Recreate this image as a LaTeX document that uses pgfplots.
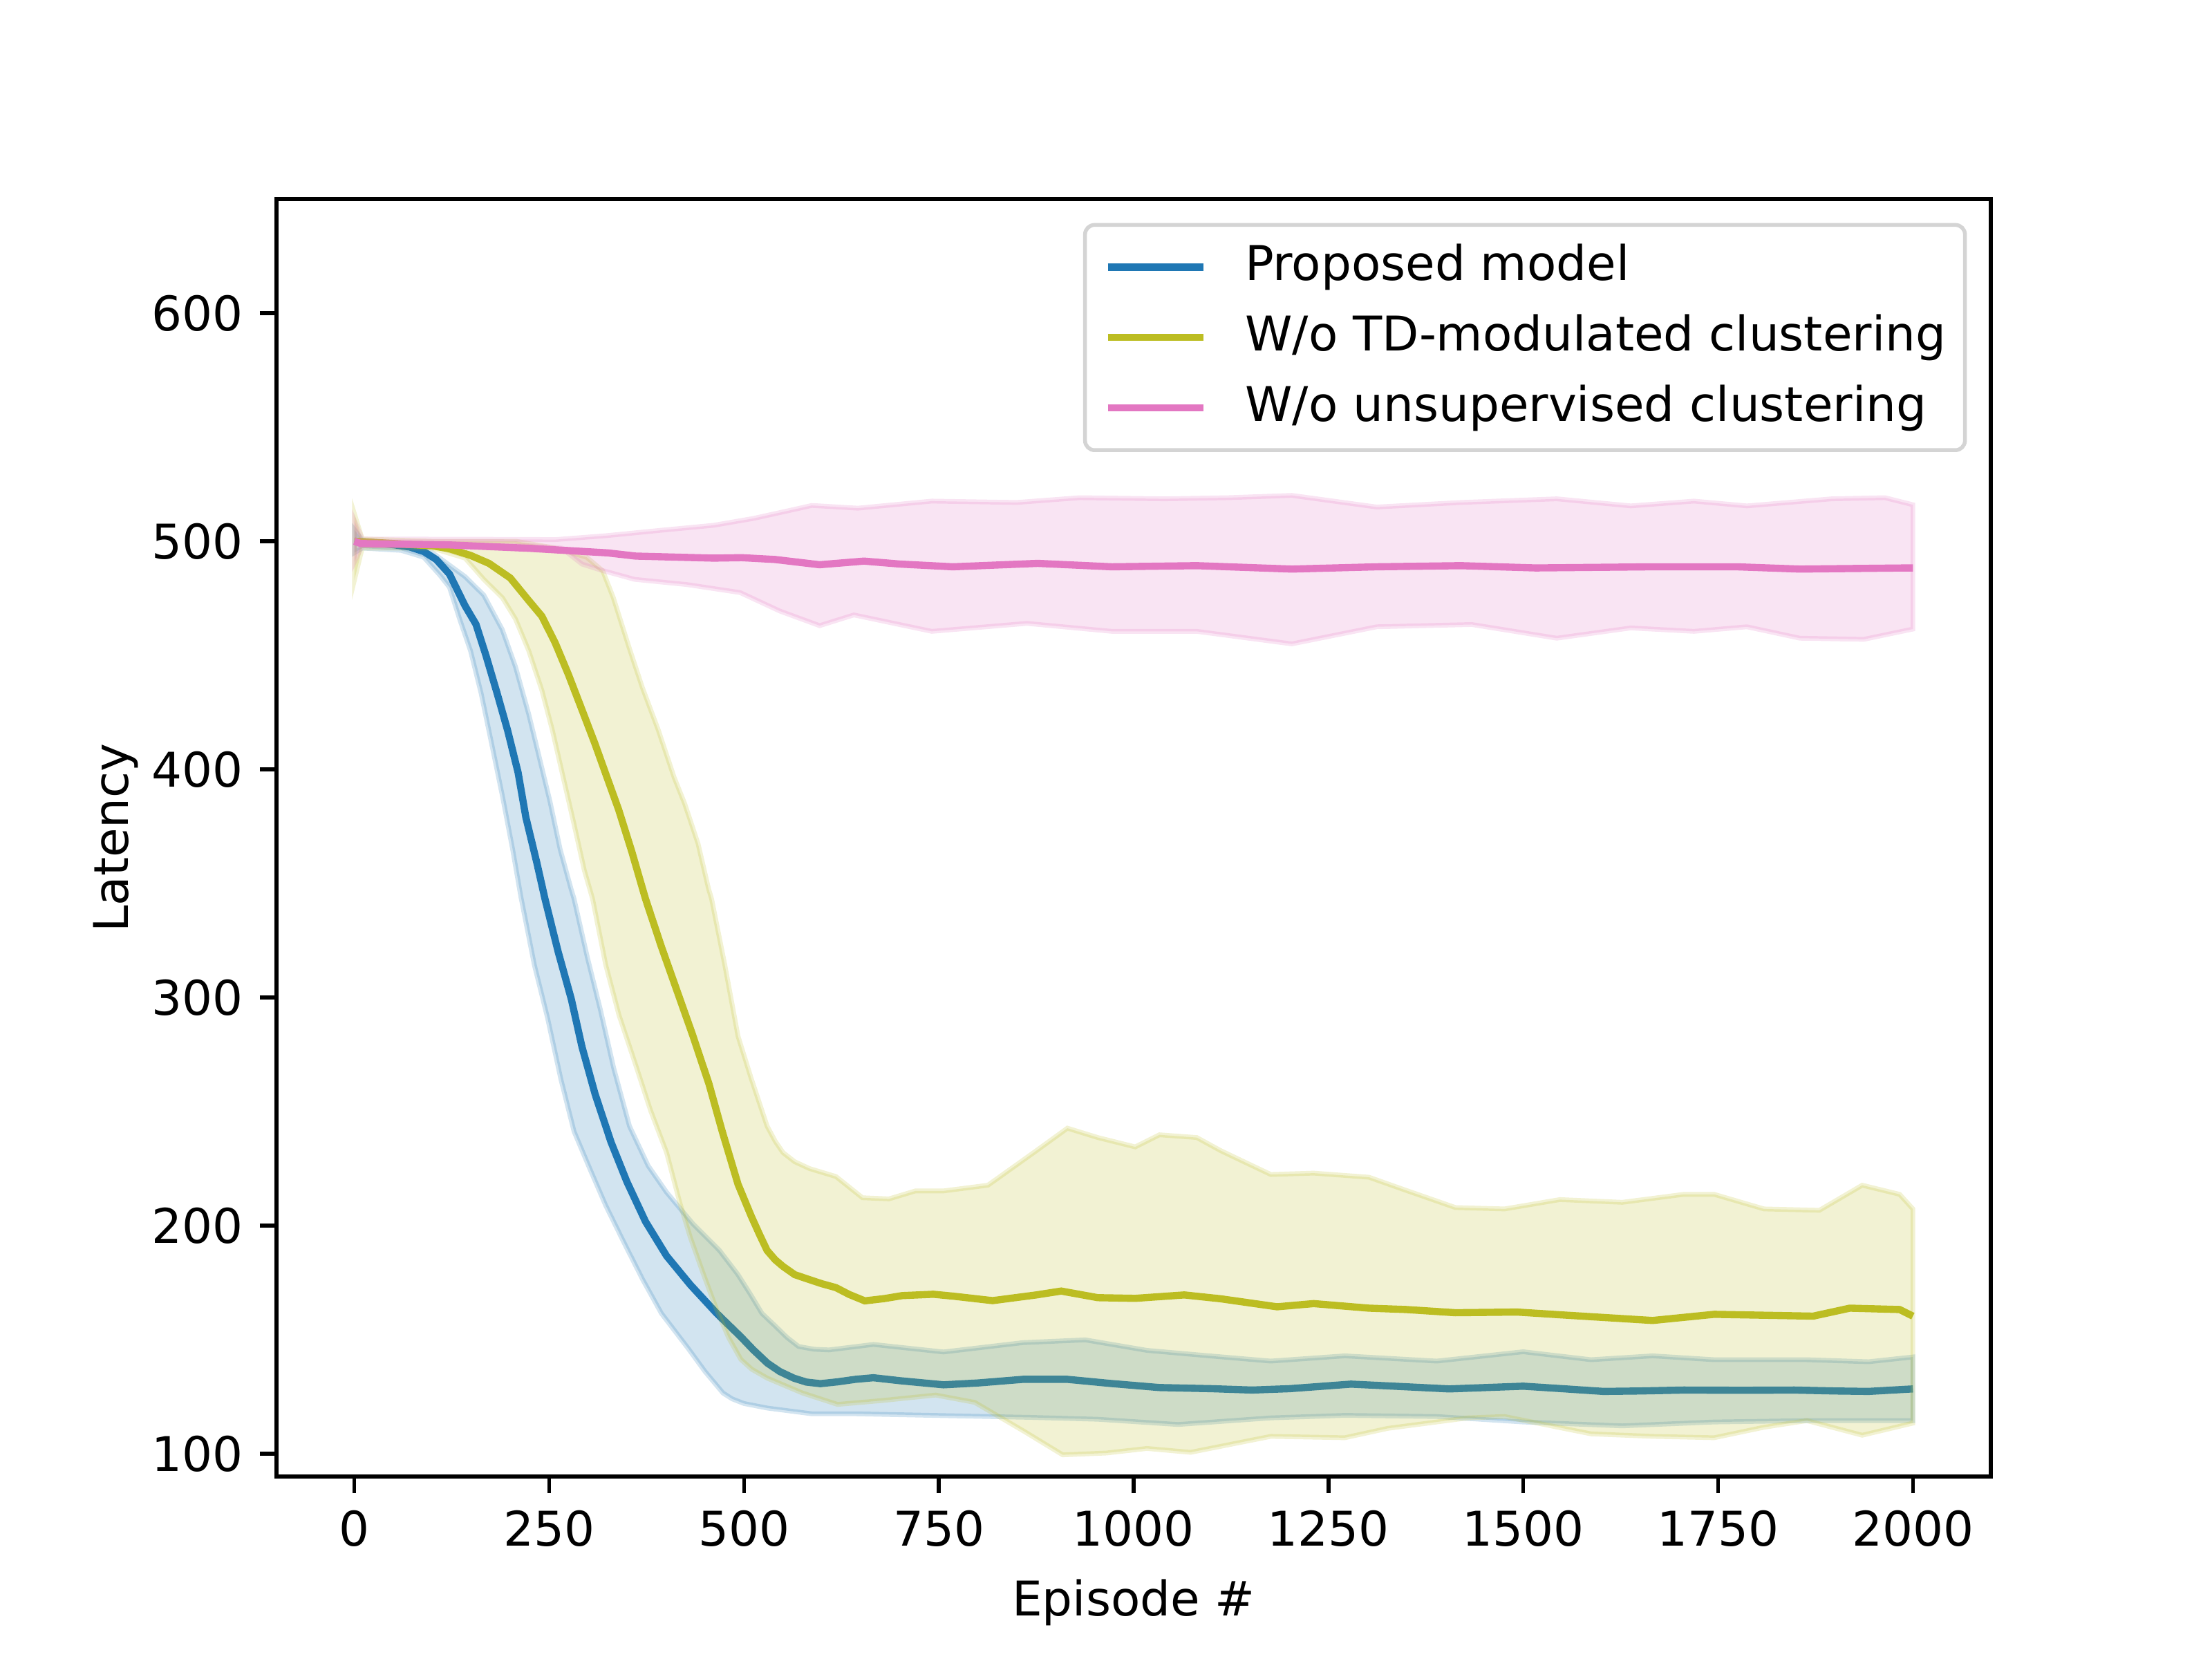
\documentclass[border=0pt]{standalone}
\usepackage{pgfplots}
\pgfplotsset{compat=1.18}
\usepackage{fontspec}
\setmainfont{DejaVu Sans}
\definecolor{cblue}{HTML}{1F77B4}
\definecolor{colive}{HTML}{BCBD22}
\definecolor{cpink}{HTML}{E377C2}

\begin{document}
\fontsize{10}{12}\selectfont
\begin{tikzpicture}
\path[use as bounding box] (0,0) rectangle (6.4in,4.8in);
\begin{axis}[
  at={(0.8in,0.528in)}, anchor=south west,
  width=4.96in, height=3.696in, scale only axis,
  xmin=-100, xmax=2100, ymin=90, ymax=650,
  xtick={0,250,...,2000}, ytick={100,200,...,600},
  tick align=outside, xtick pos=left, ytick pos=left,
  major tick length=3.5pt,
  every tick/.style={black, line width=0.8pt},
  axis line style={line width=0.8pt},
  /pgf/number format/assume math mode=true,
  /pgf/number format/1000 sep={},
  tick label style={font=\fontsize{10}{12}\selectfont},
  label style={font=\fontsize{10}{12}\selectfont},
  xlabel={Episode \#}, ylabel={Latency},
  ylabel shift=-4pt,
  legend cell align=left,
  legend style={at={(1,1)}, anchor=north east, xshift=-5pt, yshift=-5pt,
    draw=black!17, line width=0.8pt, rounded corners=2pt, fill=white, fill opacity=0.8, text opacity=1,
    font=\fontsize{10}{12}\selectfont, row sep=5pt, inner xsep=4pt, inner ysep=4pt,
    nodes={inner sep=0pt, text height=7.6pt, text depth=2.1pt},
    /tikz/every odd column/.append style={column sep=8pt}},
  legend image code/.code={\draw[#1, line width=1.5pt] (0pt,0pt) -- (20pt,0pt);},
]
% blue band
\addplot[fill=cblue, fill opacity=0.2, draw=cblue, draw opacity=0.2, line width=1pt, forget plot] coordinates {
(0,505) (10,500.5) (60,499) (100,495) (142,484.5) (166,476.4) (189.7,461.3) (206.7,445) (223.7,424.2) (237,405.6) (251,385.9) (264,365) (278,347.6) (281.8,343.3) (298.8,317.8) (315.7,294.6) (332.7,269.1) (353,243.6) (377,226.2) (400.6,214.6) (434.6,200.7) (468.5,189.1) (492,178.6) (508,170) (523,161.5) (540,156) (555,151) (570,147) (590,145.8) (609,145.5) (666,147.9) (756,144.6) (858,148.7) (938,149.9) (1017,145.3) (1097,142.9) (1176,140.6) (1271,142.9) (1389,140.6) (1500,144.7) (1587,141.2) (1666,142.9) (1745,141.2) (1864,141.2) (1943,140.3) (2000,142.4)
(2000,114.5) (1864,114.5) (1745,113.9) (1627,112.2) (1500,113.9) (1389,116.3) (1271,116.8) (1176,115.7) (1057,112.8) (954,115.1) (870,115.9) (756,116.7) (643,117.5) (587,117.5) (530,120) (500,122) (485,124) (473,126.6) (450,136) (428,146.3) (394,161.5) (370,176.3) (346,192.5) (322.5,208.8) (302,225) (281.8,241.3) (264.8,264.4) (247.8,291.1) (230.9,314.3) (213.7,344) (203,365) (190,388.2) (176,411.4) (162.5,433.5) (149,452) (135,465.9) (122,479.8) (110,485) (89,493) (60,496) (10,497) (0,495)
} -- cycle;
% blue mean
\addplot[cblue, line width=1.5pt] coordinates {
(0,500) (20,499.5) (50,498.5) (71,497.5) (89,495.5) (105,492) (122,485.6) (142,471.7) (156,463.6) (169,449.7) (183,433.5) (196.5,417.2) (210,398.7) (220,379) (234,359.2) (244.5,343.3) (261.4,320.1) (278.4,299.2) (292,278.4) (309,257.5) (329.3,236.6) (349.7,219.2) (373.5,201.8) (400.6,186.7) (431.2,174) (465,161.5) (496,151.2) (512,145.5) (530,139.7) (546,136) (564,133.1) (580,131.4) (598,130.7) (620,131.5) (643,132.6) (666,133.3) (700,132) (756,130.2) (800,131) (858,132.6) (915,132.6) (970,130.8) (1033,129) (1100,128.5) (1152,127.9) (1200,128.5) (1279,130.5) (1340,129.5) (1405,128.4) (1500,129.6) (1550,128.5) (1603,127.3) (1650,127.5) (1706,127.9) (1780,127.8) (1848,127.9) (1900,127.5) (1943,127.3) (2000,128.4)
};
\addlegendentry{Proposed model}
% green band
\addplot[fill=colive, fill opacity=0.2, draw=colive, draw opacity=0.2, line width=1pt, forget plot] coordinates {
(0,512) (10,501) (100,500) (207,500) (257.6,497) (298,493) (318.7,487) (332.3,475.2) (352.7,453.2) (369.6,435.8) (390,417.2) (410.4,396.4) (424,384.8) (441,367.4) (454.5,347.6) (458.3,343.3) (475.3,314.3) (492.3,283) (509.3,264.4) (529.6,243.6) (540,237) (550,232) (565,228) (584,225) (618,221.5) (652,212.2) (686,211.7) (720,215.2) (756,215.2) (813,217.7) (875,232.8) (915,242.7) (954,238.6) (1002,234.5) (1033,239.8) (1081,238.6) (1112,232.8) (1176,222.4) (1231,223) (1302,221.2) (1350,215.4) (1413,207.9) (1476,207.3) (1547,211.4) (1627,210.2) (1706,213.7) (1745,213.7) (1809,207.3) (1880,206.7) (1935,217.7) (1983,213.7) (2000,207.3)
(2000,113.4) (1935,108.1) (1864,114.5) (1809,111.6) (1745,107) (1666,107.6) (1587,108.7) (1476,116.3) (1429,115.7) (1326,111.1) (1271,107) (1176,107.6) (1073,100.6) (1017,102.3) (965,100.3) (909,99.5) (858,110.1) (796,122.5) (746,125.7) (677,123.3) (620,121.6) (575,126.6) (530,133.1) (510,137) (496,141.3) (480,151) (465,163) (448,178.6) (431,194.9) (417.6,210) (400.6,232) (380,250.5) (360,271.4) (339.5,292.3) (322.5,314.3) (305.6,343.3) (295,355.8) (281.4,376.6) (268,396.4) (254,417.2) (240.6,434.6) (223.7,452) (206.7,465.9) (190,475.2) (166,483.3) (142,492.6) (100,497) (10,497) (0,483)
} -- cycle;
% green mean
\addplot[colive, line width=1.5pt] coordinates {
(0,500) (50,499) (100,498) (122,496.7) (149,493.8) (172.7,490.3) (200,483.9) (223.7,474) (240.6,467.1) (257.6,455.5) (274.6,441.6) (291.6,426.5) (308.5,411.4) (325.5,395.2) (339,382.4) (356,363.9) (373.5,343.3) (393.8,322.4) (414.2,302.7) (434.6,283) (455,262.1) (472,241.3) (492.3,218.1) (509.3,204.1) (520,196) (529.6,189.1) (540,185) (550,182.1) (565,178.5) (584,176.3) (600,174.5) (618,172.8) (635,169.8) (655,167) (680,168) (703,169.3) (743,169.9) (770,169) (819,167.1) (875,169.6) (907,171.3) (954,168.4) (1002,168.1) (1065,169.6) (1112,167.9) (1184,164.4) (1231,165.8) (1302,163.8) (1350,163.2) (1413,161.8) (1492,162.1) (1547,160.9) (1666,158.4) (1745,161.1) (1872,160.3) (1919,163.8) (1983,163.2) (2000,160.3)
};
\addlegendentry{W/o TD-modulated clustering}
% pink band
\addplot[fill=cpink, fill opacity=0.2, draw=cpink, draw opacity=0.2, line width=1pt, forget plot] coordinates {
(0,509) (10,501) (230,500.8) (257,500.7) (325,502.5) (393,504.8) (461,507) (512,510) (565,514) (587,515.7) (646,514.5) (741,517.6) (850,517) (931,519.1) (1040,518.6) (1122,519.1) (1203,520.1) (1312,515) (1420,517) (1543,518.6) (1638,515.5) (1719,517.6) (1787,515.5) (1896,518.6) (1964,519.1) (2000,516)
(2000,461.5) (1937,457) (1855,457.5) (1787,462.5) (1719,460.5) (1638,462) (1543,457.5) (1434,463.5) (1312,462.5) (1203,455) (1081,460.5) (972,460.5) (863,464) (741,460.5) (641,467.7) (597,463) (546,469.4) (495,477.5) (427,481) (359.5,483.3) (315,487.5) (292,490) (266,497) (230,498) (10,498) (0,491)
} -- cycle;
% pink mean
\addplot[cpink, line width=1.5pt] coordinates {
(0,500) (8,499) (122,498.4) (225,496.9) (325,494.9) (361,493.5) (461,492.6) (497,492.8) (540,492) (597,489.7) (654,491.3) (700,490) (768,488.8) (877,490.3) (972,488.8) (1081,489.3) (1203,487.8) (1312,488.8) (1420,489.3) (1516,488.3) (1665,488.8) (1774,488.8) (1855,487.8) (1991,488.3) (2000,488.3)
};
\addlegendentry{W/o unsupervised clustering}
\end{axis}
\end{tikzpicture}
\end{document}
